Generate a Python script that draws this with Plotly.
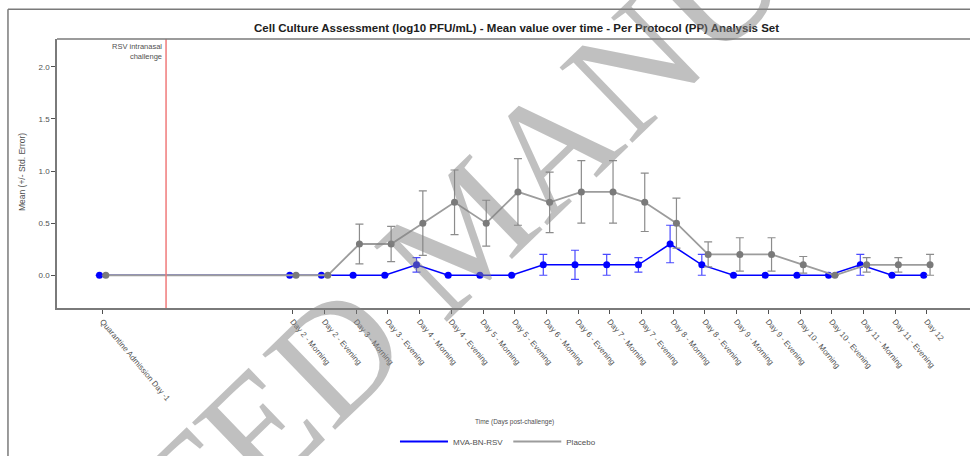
import plotly.graph_objects as go

# Visit labels and their study day (Day 0 = RSV intranasal challenge)
visit_labels = [
    "Quarantine Admission Day -1",
    "Day 2 - Morning", "Day 2 - Evening",
    "Day 3 - Morning", "Day 3 - Evening",
    "Day 4 - Morning", "Day 4 - Evening",
    "Day 5 - Morning", "Day 5 - Evening",
    "Day 6 - Morning", "Day 6 - Evening",
    "Day 7 - Morning", "Day 7 - Evening",
    "Day 8 - Morning", "Day 8 - Evening",
    "Day 9 - Morning", "Day 9 - Evening",
    "Day 10 - Morning", "Day 10 - Evening",
    "Day 11 - Morning", "Day 11 - Evening",
    "Day 12",
]
visit_days = [-1, 2, 2.5, 3, 3.5, 4, 4.5, 5, 5.5, 6, 6.5, 7, 7.5,
              8, 8.5, 9, 9.5, 10, 10.5, 11, 11.5, 12]

# Mean log10 PFU/mL and standard error per group
mva_mean = [0, 0, 0, 0, 0, 0.1, 0, 0, 0, 0.1, 0.1, 0.1, 0.1,
            0.3, 0.1, 0, 0, 0, 0, 0.1, 0, 0]
mva_se = [0, 0, 0, 0, 0, 0.07, 0, 0, 0, 0.1, 0.14, 0.1, 0.07,
          0.18, 0.1, 0, 0, 0, 0, 0.1, 0, 0]
placebo_mean = [0, 0, 0, 0.3, 0.3, 0.5, 0.7, 0.5, 0.8, 0.7, 0.8, 0.8, 0.7,
                0.5, 0.2, 0.2, 0.2, 0.1, 0, 0.1, 0.1, 0.1]
placebo_se = [0, 0, 0, 0.19, 0.17, 0.31, 0.31, 0.22, 0.32, 0.29, 0.3, 0.3, 0.28,
              0.24, 0.12, 0.16, 0.16, 0.08, 0, 0.07, 0.07, 0.1]

y_ticks = [0.0, 0.5, 1.0, 1.5, 2.0]
group_names = ["MVA-BN-RSV", "Placebo"]

# small horizontal dodge so the two groups do not hide each other
dodge = 0.05
mva_x = [d - dodge for d in visit_days]
pla_x = [d + dodge for d in visit_days]

BLUE = "#0000ff"
GREY_LINE = "#9c9c9c"
GREY_MARK = "#7a7a7a"
AXIS = "#7a7a7a"
TXT = "#505050"
FONT = "Liberation Sans"

fig = go.Figure()

fig.add_trace(go.Scatter(
    x=mva_x, y=mva_mean, mode="lines+markers", showlegend=False,
    line=dict(color=BLUE, width=1.5),
    marker=dict(color=BLUE, size=7),
    error_y=dict(type="data", array=mva_se, visible=True,
                 color="#4a4aff", thickness=1.2, width=4),
))
fig.add_trace(go.Scatter(
    x=pla_x, y=placebo_mean, mode="lines+markers", showlegend=False,
    line=dict(color=GREY_LINE, width=1.8),
    marker=dict(color=GREY_MARK, size=7),
    error_y=dict(type="data", array=placebo_se, visible=True,
                 color="#8c8c8c", thickness=1.2, width=4),
))

# legend entries (line only)
fig.add_trace(go.Scatter(x=[None], y=[None], mode="lines", name=group_names[0],
                         line=dict(color=BLUE, width=2)))
fig.add_trace(go.Scatter(x=[None], y=[None], mode="lines", name=group_names[1],
                         line=dict(color=GREY_LINE, width=2)))

fig.update_layout(
    width=970, height=456,
    margin=dict(l=57, r=0, t=39, b=146),
    paper_bgcolor="white", plot_bgcolor="white",
    font=dict(family=FONT, color=TXT, size=8),
    legend=dict(orientation="h", x=0.483, xanchor="center", y=-0.498,
                yanchor="middle", font=dict(size=8, color=TXT),
                itemwidth=48, tracegroupgap=0, bgcolor="rgba(0,0,0,0)"),
    xaxis=dict(
        range=[-1.72, 12.68], tickmode="array",
        tickvals=visit_days, ticktext=visit_labels, tickangle=50,
        ticks="outside", ticklen=4, tickcolor="#505050", tickwidth=1,
        showgrid=False, zeroline=False,
        showline=True, linecolor=AXIS, linewidth=1.5,
        tickfont=dict(size=8, color=TXT),
    ),
    yaxis=dict(
        range=[-0.314, 2.267], tickmode="array",
        tickvals=y_ticks, ticktext=[f"{v:.1f}" for v in y_ticks],
        ticks="outside", ticklen=4, tickcolor="#505050", tickwidth=1,
        showgrid=False, zeroline=False,
        showline=True, linecolor=AXIS, linewidth=1.5,
        tickfont=dict(size=8, color=TXT),
    ),
)

# challenge reference line at Day 0
fig.add_shape(type="line", xref="x", yref="paper", x0=0, x1=0, y0=0, y1=1,
              line=dict(color="#f07a7a", width=1.5))
fig.add_annotation(text="RSV intranasal<br>challenge", xref="x", yref="paper",
                   x=-0.04, y=0.995, xanchor="right", yanchor="top", align="right",
                   showarrow=False, font=dict(size=7.5, color=TXT))

# plot-area top border and outer frame
fig.add_shape(type="line", xref="paper", yref="paper", x0=0, x1=1.01, y0=1, y1=1,
              line=dict(color=AXIS, width=1.5))
fig.add_shape(type="line", xref="paper", yref="paper", x0=-0.0537, x1=1.01,
              y0=1.1107, y1=1.1107, line=dict(color=AXIS, width=1.5))
fig.add_shape(type="line", xref="paper", yref="paper", x0=-0.0537, x1=-0.0537,
              y0=1.1107, y1=-0.6, line=dict(color=AXIS, width=1.5))

# titles
fig.add_annotation(
    text="<b>Cell Culture Assessment (log10 PFU/mL) - Mean value over time - "
         "Per Protocol (PP) Analysis Set</b>",
    xref="paper", yref="paper", x=0.503, y=1.0406, showarrow=False,
    xanchor="center", yanchor="middle", font=dict(size=11.5, color="#202020"))
fig.add_annotation(text="Time (Days post-challenge)", xref="paper", yref="paper",
                   x=0.5016, y=-0.424, showarrow=False, xanchor="center",
                   yanchor="middle", font=dict(size=6.5, color=TXT))
fig.add_annotation(text="Mean (+/- Std. Error)", xref="paper", yref="paper",
                   x=-0.0383, y=0.5055, showarrow=False, textangle=-90,
                   xanchor="center", yanchor="middle", font=dict(size=8.5, color=TXT))

# watermark
fig.add_annotation(text="ACCEPTED MANUSCRIPT", xref="paper", yref="paper",
                   x=0.447, y=0.295, showarrow=False, textangle=-44,
                   xanchor="center", yanchor="middle",
                   font=dict(size=160, color="rgba(130,130,130,0.5)",
                             family="Liberation Serif"))

fig.write_html("out.html")
